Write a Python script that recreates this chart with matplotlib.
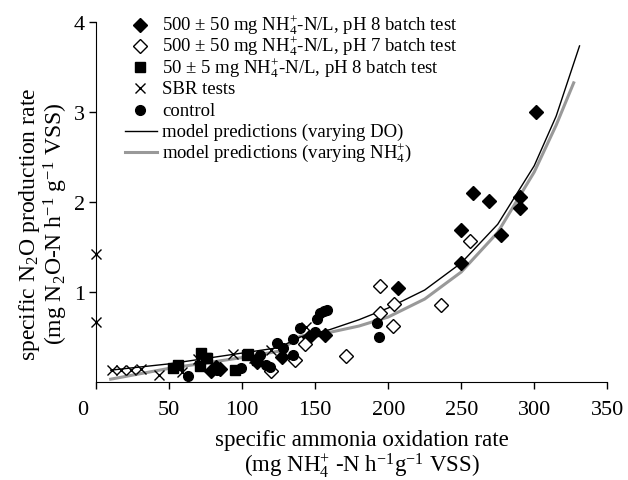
import matplotlib

matplotlib.use("Agg")

import matplotlib.pyplot as plt
import matplotlib.transforms as mtransforms

plt.rcParams["font.family"] = ["Liberation Serif", "DejaVu Serif"]
plt.rcParams["mathtext.fontset"] = "custom"
plt.rcParams["mathtext.rm"] = "Liberation Serif"
plt.rcParams["mathtext.it"] = "Liberation Serif:italic"

# 500 +/- 50 mg NH4-N/L, pH 8 batch test
ph8_x = [301, 258, 269, 290, 290, 250, 277, 250, 207, 157, 146, 127, 85, 82, 79, 110]
ph8_y = [3.00, 2.10, 2.01, 2.05, 1.93, 1.69, 1.63, 1.32, 1.04, 0.52, 0.50, 0.28, 0.14, 0.17, 0.12, 0.22]

# 500 +/- 50 mg NH4-N/L, pH 7 batch test
ph7_x = [256, 236, 194.5, 204, 194.5, 203, 171, 143, 136, 120]
ph7_y = [1.56, 0.85, 1.07, 0.87, 0.77, 0.62, 0.29, 0.42, 0.24, 0.12]

# 50 +/- 5 mg NH4-N/L, pH 8 batch test
low_x = [52.5, 56, 72, 75, 71, 76, 95, 103, 110, 104]
low_y = [0.15, 0.19, 0.32, 0.27, 0.18, 0.26, 0.13, 0.30, 0.24, 0.31]

# SBR tests
sbr_x = [0, 0, 11, 17, 24, 31, 43, 59, 70, 94, 120, 144, 108]
sbr_y = [1.42, 0.67, 0.13, 0.13, 0.13, 0.14, 0.08, 0.11, 0.25, 0.31, 0.35, 0.61, 0.27]

# control
ctrl_x = [63, 83, 99, 112, 116, 119, 124, 135, 135, 139.5, 150, 151, 153, 156, 158, 192, 194, 128]
ctrl_y = [0.06, 0.13, 0.15, 0.30, 0.19, 0.16, 0.43, 0.48, 0.30, 0.60, 0.55, 0.70, 0.76, 0.79, 0.80, 0.65, 0.50, 0.38]

# model predictions
do_x = [10, 50, 100, 125, 140, 160, 180, 200, 225, 250, 275, 300, 315, 331]
do_y = [0.13, 0.20, 0.32, 0.38, 0.50, 0.58, 0.69, 0.82, 1.02, 1.32, 1.75, 2.40, 2.95, 3.73]
nh_x = [10, 50, 100, 125, 140, 160, 180, 200, 225, 250, 275, 300, 315, 327]
nh_y = [0.03, 0.15, 0.27, 0.34, 0.51, 0.55, 0.62, 0.72, 0.92, 1.22, 1.66, 2.33, 2.85, 3.32]

legend_labels = [
    "500 ± 50 mg NH$_4^{+}$-N/L, pH 8 batch test",
    "500 ± 50 mg NH$_4^{+}$-N/L, pH 7 batch test",
    "50 ± 5 mg NH$_4^{+}$-N/L, pH 8 batch test",
    "SBR tests",
    "control",
    "model predictions (varying DO)",
    "model predictions (varying NH$_4^{+}$)",
]

W, H = 628, 481
fig = plt.figure(figsize=(W / 100, H / 100), dpi=100)
ax = fig.add_axes([0.153, 0.204, 0.814, 0.749])

styles = [
    dict(marker="D", ms=7, color="black", ls="none"),
    dict(marker="D", ms=7, mfc="white", mec="black", mew=1.0, ls="none"),
    dict(marker="s", ms=7, color="black", ls="none"),
    dict(marker="x", ms=6.5, color="black", mew=1.0, ls="none"),
    dict(marker="o", ms=7, color="black", ls="none"),
    dict(color="black", lw=1.0),
    dict(color="#999999", lw=2.2),
]

ax.plot(ph8_x, ph8_y, clip_on=False, **styles[0])
ax.plot(ph7_x, ph7_y, clip_on=False, **styles[1])
ax.plot(low_x, low_y, clip_on=False, **styles[2])
ax.plot(sbr_x, sbr_y, clip_on=False, **styles[3])
ax.plot(ctrl_x, ctrl_y, clip_on=False, **styles[4])
ax.plot(do_x, do_y, zorder=1, **styles[5])
ax.plot(nh_x, nh_y, zorder=0.9, **styles[6])

ax.set_xlim(0, 350)
ax.set_ylim(0, 4)
ax.set_xticks(range(0, 351, 50))
ax.set_yticks([1, 2, 3, 4])
ax.spines["top"].set_visible(False)
ax.spines["right"].set_visible(False)
ax.tick_params(direction="out", length=5, width=1, labelsize=16)
ax.tick_params(axis="x", pad=8)
ax.tick_params(axis="y", pad=3)

# the 0 label sits a bit left of its tick
lab0 = ax.get_xticklabels()[0]
lab0.set_transform(lab0.get_transform() + mtransforms.ScaledTranslation(-0.13, 0, fig.dpi_scale_trans))

ax.set_xlabel("specific ammonia oxidation rate\n(mg NH$_4^{+}$ -N h$^{-1}$g$^{-1}$ VSS)",
              fontsize=16.5, linespacing=1.05)
ax.xaxis.set_label_coords(0.52, -0.13, transform=ax.transAxes)
ax.xaxis.label.set_va("top")
ax.set_ylabel("specific N$_2$O production rate\n(mg N$_2$O-N h$^{-1}$ g$^{-1}$ VSS)",
              fontsize=17, linespacing=1.0)
ax.yaxis.set_label_coords(-0.0515, 0.44, transform=ax.transAxes)

# legend rows with an even baseline step, laid out in figure pixels
fig_px = mtransforms.Affine2D().scale(1 / W, -1 / H).translate(0, 1) + fig.transFigure
row0, step = 25.5, 21.3
for i, (label, st) in enumerate(zip(legend_labels, styles)):
    yc = row0 + step * i
    if "marker" in st:
        fig.add_artist(plt.Line2D([140], [yc], transform=fig_px, **st))
    else:
        fig.add_artist(plt.Line2D([125, 157], [yc, yc], transform=fig_px, **st))
    fig.text(162, yc + 5, label, transform=fig_px, fontsize=13.5, va="baseline", ha="left")

fig.savefig("out.png", dpi=100)
